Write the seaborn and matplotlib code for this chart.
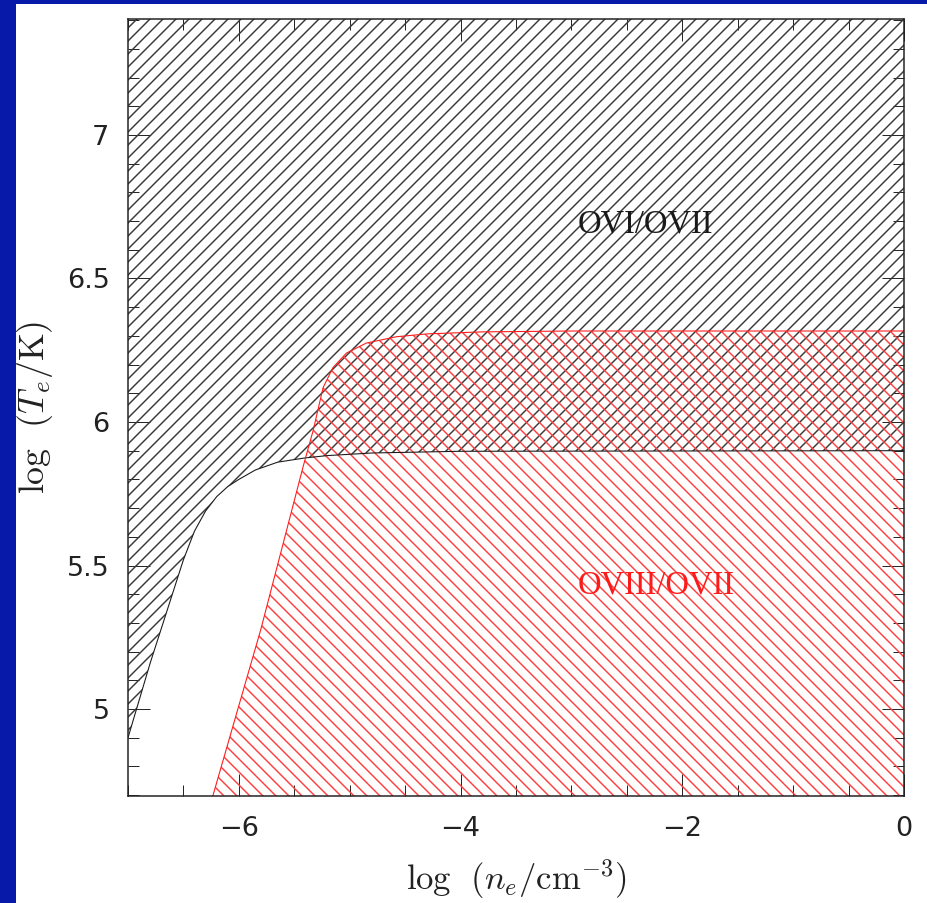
import matplotlib
matplotlib.use("Agg")
import matplotlib.pyplot as plt
from matplotlib.patches import Rectangle
from matplotlib.ticker import MultipleLocator, FuncFormatter
import seaborn as sns

# Boundary of the O VI / O VII constraint (region above the curve is allowed)
ovi_logn = [-7.0, -6.9, -6.8, -6.7, -6.6, -6.5, -6.4, -6.3, -6.2, -6.1,
            -6.0, -5.85, -5.65, -5.4, -5.2, -4.8, -4.0, 0.0]
ovi_logT = [4.90, 5.03, 5.16, 5.28, 5.40, 5.52, 5.62, 5.69, 5.74, 5.775,
            5.80, 5.833, 5.86, 5.875, 5.883, 5.892, 5.898, 5.90]

# Boundary of the O VIII / O VII constraint (region below the curve is allowed)
oviii_logn = [-6.27, -5.80, -5.42, -5.33, -5.24, -5.15, -5.03, -4.85,
              -4.58, -4.30, -3.8, -3.0, 0.0]
oviii_logT = [4.65, 5.28, 5.845, 5.97, 6.12, 6.19, 6.24, 6.275,
              6.297, 6.307, 6.314, 6.317, 6.317]

region_labels = ["OVI/OVII", "OVIII/OVII"]
label_pos_logn = [-2.33, -2.24]
label_pos_logT = [6.69, 5.43]

DPI = 78
W, H = 927, 903

sns.set_theme(style="ticks")
plt.rcParams["font.family"] = ["DejaVu Sans"]
plt.rcParams["mathtext.fontset"] = "cm"
plt.rcParams["hatch.linewidth"] = 1.35
plt.rcParams["axes.unicode_minus"] = True

fig = plt.figure(figsize=(W / DPI, H / DPI), dpi=DPI, facecolor="#0719a8")
fig.add_artist(Rectangle((16 / W, 0), (W - 16) / W, (H - 4) / H,
                         transform=fig.transFigure, facecolor="white",
                         edgecolor="none", zorder=-10))

ax = fig.add_axes([128 / W, 107 / H, 776 / W, 777 / H])
ax.set_facecolor("white")

# hatched allowed regions
ax.fill_between(ovi_logn, ovi_logT, 7.6, facecolor="none",
                edgecolor="#3a3a3a", linewidth=0, hatch="//")
ax.fill_between(oviii_logn, 4.5, oviii_logT, facecolor="none",
                edgecolor="#ff4040", linewidth=0, hatch="\\\\")

# boundary curves
sns.lineplot(x=ovi_logn, y=ovi_logT, ax=ax, color="#1a1a1a", linewidth=1.0,
             estimator=None)
sns.lineplot(x=oviii_logn, y=oviii_logT, ax=ax, color="#ff1a1a",
             linewidth=1.0, estimator=None)

ax.text(label_pos_logn[0], label_pos_logT[0], region_labels[0],
        ha="center", va="center", color="#1a1a1a",
        fontfamily="Liberation Serif", fontsize=30)
ax.text(label_pos_logn[1], label_pos_logT[1], region_labels[1],
        ha="center", va="center", color="#ff1a1a",
        fontfamily="Liberation Serif", fontsize=30)

ax.set_xlim(-7.0, 0.0)
ax.set_ylim(4.697, 7.404)

ax.xaxis.set_major_locator(MultipleLocator(2))
ax.xaxis.set_minor_locator(MultipleLocator(0.5))
ax.yaxis.set_major_locator(MultipleLocator(0.5))
ax.yaxis.set_minor_locator(MultipleLocator(0.1))
ax.yaxis.set_major_formatter(FuncFormatter(lambda v, p: f"{v:g}"))
ax.xaxis.set_major_formatter(FuncFormatter(lambda v, p: f"{v:g}".replace("-", "\u2212")))

ax.tick_params(which="both", direction="in", top=True, right=True,
               color="#222222", width=0.9, labelsize=25, labelcolor="#222222")
ax.tick_params(which="major", length=20)
ax.tick_params(which="minor", length=10)
ax.tick_params(axis="x", which="major", pad=18)
ax.tick_params(axis="y", which="major", pad=17)

for s in ax.spines.values():
    s.set_linewidth(1.4)
    s.set_color("#222222")

ax.set_xlabel(r"$\mathrm{log}\ \ (n_e/\mathrm{cm}^{-3})$", fontsize=32,
              color="#222222")
ax.set_ylabel(r"$\mathrm{log}\ \ (T_e/\mathrm{K})$", fontsize=33,
              color="#222222")
ax.xaxis.set_label_coords(0.5, -0.079)
ax.yaxis.set_label_coords(-0.094, 0.5)

fig.savefig("out.png", dpi=DPI, facecolor=fig.get_facecolor())
